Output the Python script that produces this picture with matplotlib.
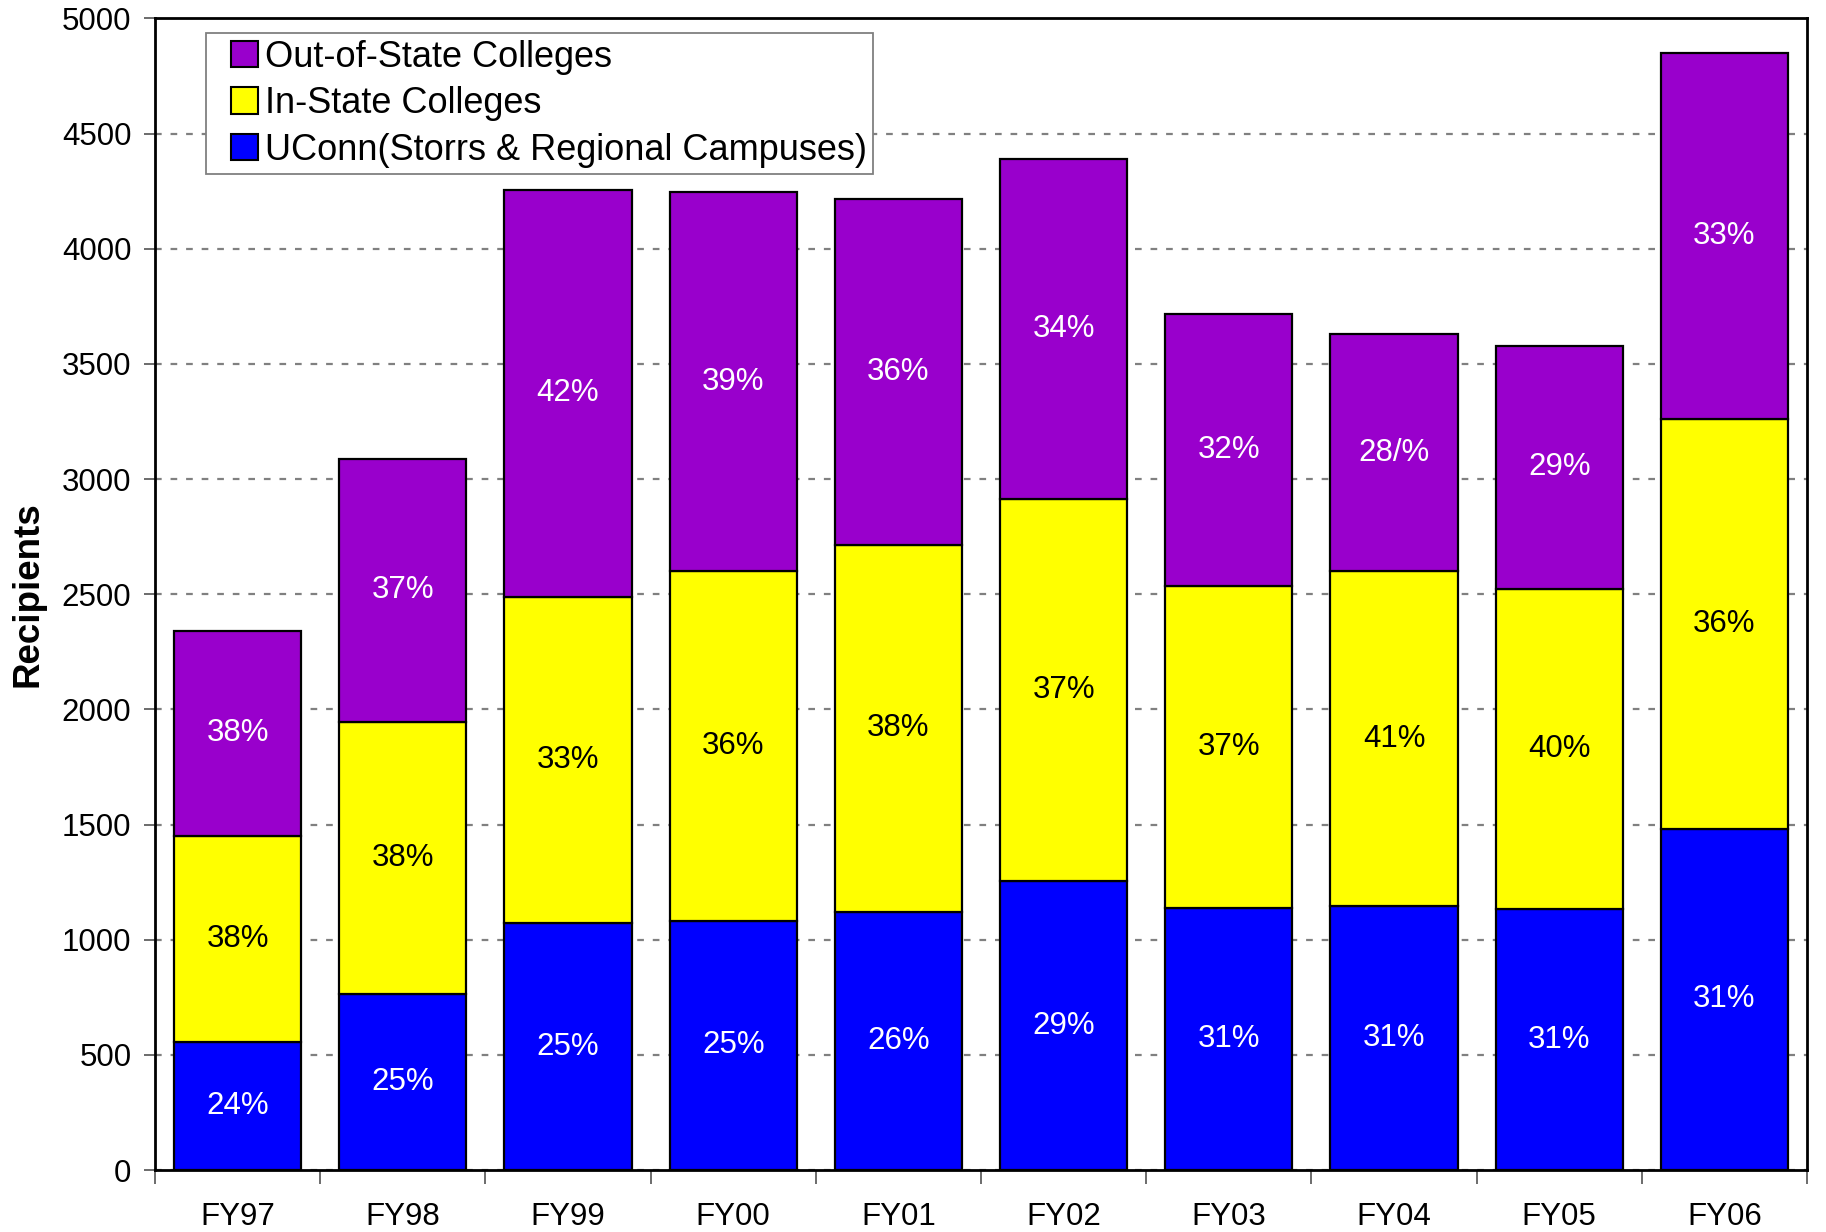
import numpy as np
import matplotlib
matplotlib.use('Agg')
import matplotlib.pyplot as plt
from matplotlib.patches import Patch, Rectangle
from matplotlib.legend_handler import HandlerPatch

plt.rcParams['font.family'] = ['Liberation Sans', 'DejaVu Sans']

years = ['FY97', 'FY98', 'FY99', 'FY00', 'FY01', 'FY02', 'FY03', 'FY04', 'FY05', 'FY06']
uconn = [556, 763, 1072, 1082, 1122, 1254, 1138, 1148, 1133, 1481]
in_state = [895, 1184, 1416, 1517, 1593, 1658, 1400, 1451, 1390, 1780]
out_state = [890, 1142, 1769, 1648, 1502, 1477, 1178, 1031, 1057, 1588]

uconn_pct = ['24%', '25%', '25%', '25%', '26%', '29%', '31%', '31%', '31%', '31%']
in_pct = ['38%', '38%', '33%', '36%', '38%', '37%', '37%', '41%', '40%', '36%']
out_pct = ['38%', '37%', '42%', '39%', '36%', '34%', '32%', '28/%', '29%', '33%']

BLUE = '#0000FF'
YELLOW = '#FFFF00'
PURPLE = '#9900CC'


def square_key(legend, orig_handle, xdescent, ydescent, width, height, fontsize):
    # small square pushed to the right end of the key box
    side = height * 1.05
    return Rectangle((width - side - xdescent, -ydescent + (height - side) / 2),
                     side, side)


fig = plt.figure(figsize=(18.26, 12.32), dpi=100)
ax = fig.add_axes([0.0849, 0.0503, 0.9047, 0.9347])

x = np.arange(len(years))
w = 0.77
u = np.array(uconn)
i = np.array(in_state)
o = np.array(out_state)

ax.bar(x, u, w, color=BLUE, edgecolor='black', linewidth=1.6, zorder=3)
ax.bar(x, i, w, bottom=u, color=YELLOW, edgecolor='black', linewidth=1.6, zorder=3)
ax.bar(x, o, w, bottom=u + i, color=PURPLE, edgecolor='black', linewidth=1.6, zorder=3)

# percentage labels in the middle of each segment
fs = 22.5
for k in range(len(years)):
    ax.text(x[k], u[k] / 2, uconn_pct[k], ha='center', va='center',
            color='white', fontsize=fs, zorder=4)
    ax.text(x[k], u[k] + i[k] / 2, in_pct[k], ha='center', va='center',
            color='black', fontsize=fs, zorder=4)
    ax.text(x[k], u[k] + i[k] + o[k] / 2, out_pct[k], ha='center', va='center',
            color='white', fontsize=fs, zorder=4)

ax.set_xlim(-0.5, len(years) - 0.5)
ax.set_ylim(0, 5000)
ax.set_yticks(np.arange(0, 5001, 500))
ax.set_xticks(x)
ax.set_xticklabels(years)
ax.set_xticks(np.arange(-0.5, len(years), 1), minor=True)
ax.tick_params(axis='x', which='major', length=0, pad=23, labelsize=22.5)
ax.tick_params(axis='x', which='minor', length=10, width=1.3, color='#606060', direction='out')
ax.tick_params(axis='y', length=8, width=1.3, color='#606060', labelsize=22.5, pad=9)

ax.yaxis.grid(True, color='#808080', linestyle=(0, (3, 4)), linewidth=1.6, zorder=0)
ax.set_axisbelow(True)
for s in ax.spines.values():
    s.set_linewidth(2)
    s.set_color('black')

ax.set_ylabel('Recipients', fontsize=26.5, fontweight='bold', labelpad=12)

handles = [Patch(facecolor=PURPLE, edgecolor='black', linewidth=1.5),
           Patch(facecolor=YELLOW, edgecolor='black', linewidth=1.5),
           Patch(facecolor=BLUE, edgecolor='black', linewidth=1.5)]
labels = ['Out-of-State Colleges', 'In-State Colleges',
          'UConn(Storrs & Regional Campuses)']
leg = ax.legend(handles, labels,
                loc='upper left', bbox_to_anchor=(0.031, 0.987), borderaxespad=0,
                fontsize=26, frameon=True, fancybox=False, framealpha=1,
                edgecolor='#808080', handlelength=1.25, handleheight=0.7,
                handletextpad=0.2, labelspacing=0.32, borderpad=0.17,
                handler_map={Patch: HandlerPatch(patch_func=square_key)})
leg.get_frame().set_linewidth(1.3)
leg.set_zorder(5)

fig.savefig('out.png', dpi=100)
